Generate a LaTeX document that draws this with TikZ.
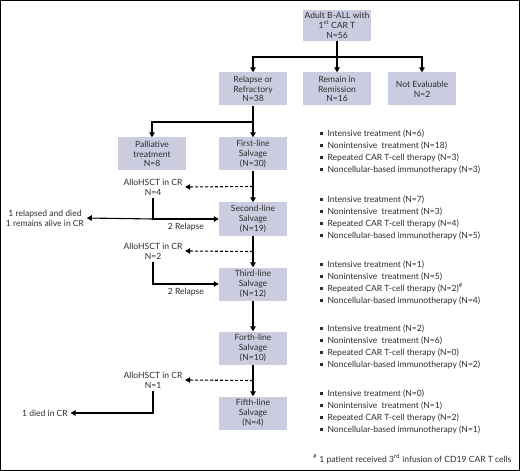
\documentclass[tikz,border=0pt]{standalone}
\usepackage{fontspec}
\setmainfont{Lato}
\usetikzlibrary{calc}
\usetikzlibrary{positioning}
\usetikzlibrary{arrows.meta}

\definecolor{boxfill}{RGB}{203,204,224}
\definecolor{txtgray}{RGB}{45,45,45}
\newcommand{\bulsq}{\raisebox{1.8pt}{\rule{2.4pt}{2.4pt}}\hspace{5pt}}

\tikzset{
  stagebox/.style={fill=boxfill, minimum width=68bp, minimum height=33bp,
    inner sep=1bp, align=center, text=txtgray, font=\fontsize{8.6}{9.8}\selectfont},
  plaintxt/.style={align=center, text=txtgray, inner sep=2.5bp,
    font=\fontsize{8.6}{9.8}\selectfont},
  treatlist/.style={anchor=west, align=left, text=txtgray, inner sep=0pt,
    font=\fontsize{8.6}{12}\selectfont},
  flow/.style={line width=1.1pt, -{Triangle[length=5bp,width=5.5bp]}},
  dflow/.style={flow, dashed, dash pattern=on 3bp off 2bp},
}

\begin{document}
\begin{tikzpicture}[x=1bp, y=-1bp]
            \useasboundingbox (0,0) rectangle (520,471);
            \draw[line width=1.5pt] (0.75,0.75) rectangle (519.25,470.25);

            % Boxes
            \node[stagebox, minimum height=31bp] (start) at (337,25.5) {Adult B-ALL with\\1\textsuperscript{st} CAR T\\N=56};
            \node[stagebox] (relapse) at (253,89) {Relapse or\\Refractory\\N=38};
            \node[stagebox] (remain) at (337,89) {Remain in\\Remission\\N=16};
            \node[stagebox] (noteval) at (422,89) {Not Evaluable\\N=2};
            \node[stagebox] (pall) at (152,154) {Palliative\\treatment\\N=8};
            \node[stagebox] (first) at (253,154) {First-line\\Salvage\\(N=30)};
            \node[stagebox] (second) at (253,219) {Second-line\\Salvage\\(N=19)};
            \node[stagebox] (third) at (253,284) {Third-line\\Salvage\\(N=12)};
            \node[stagebox] (fourth) at (253,348) {Forth-line\\Salvage\\(N=10)};
            \node[stagebox] (fifth) at (253,413) {Fifth-line\\Salvage\\(N=4)};

            % Transplant and outcome texts
            \node[plaintxt] (allo1) at (153,187) {AlloHSCT in CR\\N=4};
            \node[plaintxt] (allo2) at (153,251) {AlloHSCT in CR\\N=2};
            \node[plaintxt] (allo3) at (153,380) {AlloHSCT in CR\\N=1};
            \node[plaintxt] (out1) at (45,218) {1 relapsed and died\\1 remains alive in CR};
            \node[plaintxt] (out3) at (45,413) {1 died in CR};

            % Split arrows
            \coordinate (j1) at (337,57);
            \coordinate (j2) at (253,122);
            \draw[line width=1.1pt] (start) -- (j1);
            \draw[flow] (j1) -| (relapse);
            \draw[flow] (j1) -- (remain);
            \draw[flow] (j1) -| (noteval);
            \draw[line width=1.1pt] (relapse) -- (j2);
            \draw[flow] (j2) -| (pall);
            \draw[flow] (j2) -- (first);

            % Salvage chain
            \draw[flow] (first) -- (second);
            \draw[flow] (second) -- (third);
            \draw[flow] (third) -- (fourth);
            \draw[flow] (fourth) -- (fifth);

            % Transplant branches
            \draw[dflow] ($(first.south)!0.5!(second.north)$) -- (allo1.east);
            \draw[dflow] ($(second.south)!0.5!(third.north)$) -- (allo2.east);
            \draw[dflow] ($(fourth.south)!0.5!(fifth.north)$) -- (allo3.east);
            \draw[flow] (allo1.south) |- node[pos=0.75, below=1bp, plaintxt] {2 Relapse} (second.west);
            \draw[flow] (allo1.south |- second.west) -- (out1.east);
            \draw[flow] (allo2.south) |- node[pos=0.75, below=1bp, plaintxt] {2 Relapse} (third.west);
            \draw[flow] (allo3.south) |- (out3.east);

            % Treatment lists
            \node[treatlist] (list1) at (320,152) {\bulsq Intensive treatment (N=6)\\\bulsq Nonintensive\ \ treatment (N=18)\\\bulsq Repeated CAR T-cell therapy (N=3)\\\bulsq Noncellular-based immunotherapy (N=3)};
            \node[treatlist] (list2) at (320,218) {\bulsq Intensive treatment (N=7)\\\bulsq Nonintensive\ \ treatment (N=3)\\\bulsq Repeated CAR T-cell therapy (N=4)\\\bulsq Noncellular-based immunotherapy (N=5)};
            \node[treatlist] (list3) at (320,283) {\bulsq Intensive treatment (N=1)\\\bulsq Nonintensive\ \ treatment (N=5)\\\bulsq Repeated CAR T-cell therapy (N=2)\textsuperscript{\#}\\\bulsq Noncellular-based immunotherapy (N=4)};
            \node[treatlist] (list4) at (320,347) {\bulsq Intensive treatment (N=2)\\\bulsq Nonintensive\ \ treatment (N=6)\\\bulsq Repeated CAR T-cell therapy (N=0)\\\bulsq Noncellular-based immunotherapy (N=2)};
            \node[treatlist] (list5) at (320,412) {\bulsq Intensive treatment (N=0)\\\bulsq Nonintensive\ \ treatment (N=1)\\\bulsq Repeated CAR T-cell therapy (N=2)\\\bulsq Noncellular-based immunotherapy (N=1)};
            \node[treatlist] (note) at (313,459) {\textsuperscript{\#} 1 patient received 3\textsuperscript{rd} infusion of CD19 CAR T cells};

        \end{tikzpicture}
\end{document}
